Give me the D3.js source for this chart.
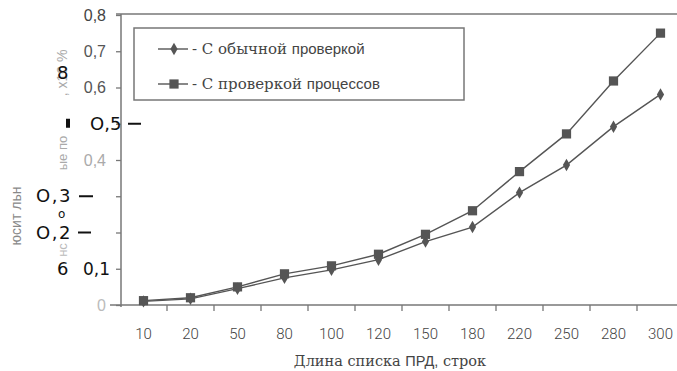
<!DOCTYPE html>
<html>
<head>
<meta charset="utf-8">
<script src="https://cdn.jsdelivr.net/npm/d3@7/dist/d3.min.js"></script>
<style>
  html, body { margin: 0; padding: 0; background: #fff; }
  svg { display: block; }
</style>
</head>
<body>
<svg id="chart" width="677" height="371"></svg>
<script>
// List length, rows
const categories = ["10", "20", "50", "80", "100", "120", "150", "180", "220", "250", "280", "300"];
// Relative losses, x10 %
const regularCheck = [0.010, 0.017, 0.045, 0.075, 0.097, 0.125, 0.175, 0.215, 0.310, 0.386, 0.492, 0.581];
const processCheck = [0.012, 0.020, 0.050, 0.086, 0.108, 0.140, 0.195, 0.260, 0.368, 0.472, 0.618, 0.750];
const seriesNames = ["С обычной проверкой", "С проверкой процессов"];

const yTicks = [0, 0.1, 0.2, 0.3, 0.4, 0.5, 0.6, 0.7, 0.8];
const yTickLabels = ["0", "", "", "", "0,4", "", "0,6", "0,7", "0,8"];
const yTickShades = ["#bbb", "#555", "#555", "#555", "#aaa", "#555", "#555", "#555", "#444"];
// printed over-labels on the value axis
const yInkValues = [0.5, 0.3, 0.2, 0.1];
const yInkLabels = ["O,5", "O,3", "O,2", "0,1"];

const svg = d3.select("#chart");
const x = d3.scaleBand().domain(categories).range([120, 684]);
const y = d3.scaleLinear().domain([0, 0.8]).range([305, 15]);
const lineColor = "#555";

// plot frame
svg.append("line").attr("x1", 116).attr("x2", 677).attr("y1", y(0.8) - 1).attr("y2", y(0.8) - 1)
  .attr("stroke", "#777").attr("stroke-width", 1.6);

// y axis
const yAxis = svg.append("g").attr("transform", "translate(121,0)")
  .call(d3.axisLeft(y).tickValues(yTicks).tickSize(5).tickPadding(10)
    .tickFormat((d, i) => yTickLabels[i]));
yAxis.select(".domain").attr("stroke", "#777").attr("stroke-width", 1.5)
  .attr("d", `M0,${y(0.8) - 1}V${y(0) + 2}`);
yAxis.selectAll(".tick line").attr("stroke", "#777").attr("stroke-width", 1.3);
yAxis.selectAll(".tick text")
  .attr("font-family", "'Liberation Sans', Arial, sans-serif")
  .attr("font-size", 16)
  .attr("fill", (d, i) => yTickShades[i]);

// x axis
const xAxis = svg.append("g").attr("transform", `translate(0,${y(0)})`)
  .call(d3.axisBottom(x).tickSize(0).tickPadding(23));
xAxis.select(".domain").attr("stroke", "#777").attr("stroke-width", 1.5)
  .attr("d", "M110,0H677");
xAxis.selectAll(".tick text")
  .attr("font-family", "Roboto, 'Liberation Sans', sans-serif")
  .attr("font-weight", 300)
  .attr("font-size", 15)
  .attr("fill", "#444");
xAxis.selectAll(".bound").data(categories.slice(1)).join("line")
  .attr("class", "bound")
  .attr("x1", d => x(d)).attr("x2", d => x(d))
  .attr("y1", 0).attr("y2", 6)
  .attr("stroke", "#777").attr("stroke-width", 1.3);

// x axis title
const xTitle = svg.append("text").attr("x", 390).attr("y", 366)
  .attr("text-anchor", "middle").attr("fill", "#444").attr("font-size", 14.5)
  .attr("font-family", "'DejaVu Serif', serif");
xTitle.append("tspan").text("Длина списка ");
xTitle.append("tspan").attr("font-family", "'Liberation Sans', sans-serif").text("ПРД,");
xTitle.append("tspan").text(" строк");

// y axis title fragments (rotated)
const rot = (tx, ty, t, fill, size) => svg.append("text")
  .attr("transform", `translate(${tx},${ty}) rotate(-90)`)
  .attr("text-anchor", "middle").attr("fill", fill).attr("font-size", size)
  .attr("font-family", "'Liberation Sans', Arial, sans-serif").text(t);
rot(21, 216, "юсит льн", "#888", 14);
rot(67, 153, "ые по", "#aaa", 13);
rot(67, 250, "нс", "#bbb", 13);
rot(67, 73, ", х10 %", "#aaa", 14);

// printed labels over the value axis
const ink = svg.append("g").attr("font-family", "'DejaVu Sans', sans-serif").attr("fill", "#111");
const inkX = [90, 36, 36, 83];
const dashX = [[128, 141], [79, 93], [78, 91], null];
ink.selectAll("text.v").data(yInkValues).join("text")
  .attr("class", "v")
  .attr("x", (d, i) => inkX[i]).attr("y", d => y(d) + 6)
  .attr("font-size", (d, i) => i === 3 ? 17 : 18)
  .attr("letter-spacing", (d, i) => (i === 1 || i === 2) ? 1.5 : 0)
  .text((d, i) => yInkLabels[i]);
ink.selectAll("line.d").data(yInkValues.filter((d, i) => dashX[i])).join("line")
  .attr("class", "d")
  .attr("x1", (d, i) => dashX[i][0]).attr("x2", (d, i) => dashX[i][1])
  .attr("y1", d => y(d)).attr("y2", d => y(d))
  .attr("stroke", "#111").attr("stroke-width", 2);
ink.append("text").attr("x", 57).attr("y", y(0.1) + 6).attr("font-size", 18).text("6");
ink.append("text").attr("x", 57).attr("y", y(0.64) + 6).attr("font-size", 18).text("8");
ink.append("text").attr("x", 58).attr("y", y(0.25) + 4).attr("font-size", 12).text("o");
ink.append("rect").attr("x", 66).attr("y", y(0.5) - 5).attr("width", 4).attr("height", 9);

// series lines
const cx = d => x(d) + x.bandwidth() / 2;
const line = d3.line().x((v, i) => cx(categories[i])).y(v => y(v));
[regularCheck, processCheck].forEach(vals => {
  svg.append("path").attr("d", line(vals)).attr("fill", "none")
    .attr("stroke", lineColor).attr("stroke-width", 1.4);
});
const diamond = d3.symbol().type(d3.symbolDiamond).size(45);
const square = d3.symbol().type(d3.symbolSquare).size(85);
svg.append("g").selectAll("path").data(regularCheck).join("path")
  .attr("transform", (v, i) => `translate(${cx(categories[i])},${y(v)})`)
  .attr("d", diamond).attr("fill", lineColor);
svg.append("g").selectAll("path").data(processCheck).join("path")
  .attr("transform", (v, i) => `translate(${cx(categories[i])},${y(v)})`)
  .attr("d", square).attr("fill", lineColor);

// legend
const lg = svg.append("g");
lg.append("rect").attr("x", 134).attr("y", 28).attr("width", 330).attr("height", 72)
  .attr("fill", "#fff").attr("stroke", "#777").attr("stroke-width", 1.5);
const rows = [49, 84];
const sym = [diamond, square];
rows.forEach((ry, i) => {
  lg.append("line").attr("x1", 158).attr("x2", 188).attr("y1", ry).attr("y2", ry)
    .attr("stroke", lineColor).attr("stroke-width", 1.4);
  lg.append("path").attr("transform", `translate(174,${ry})`).attr("d", sym[i]).attr("fill", lineColor);
  const parts = seriesNames[i].split(" ");
  const t = lg.append("text").attr("x", 192).attr("y", ry + 5).attr("font-size", 15).attr("fill", "#444")
    .attr("font-family", "'DejaVu Serif', serif");
  t.append("tspan").text("- " + parts.slice(0, -1).join(" ") + " ");
  t.append("tspan").attr("font-family", "'Liberation Sans', sans-serif").text(parts[parts.length - 1]);
});
</script>
</body>
</html>
